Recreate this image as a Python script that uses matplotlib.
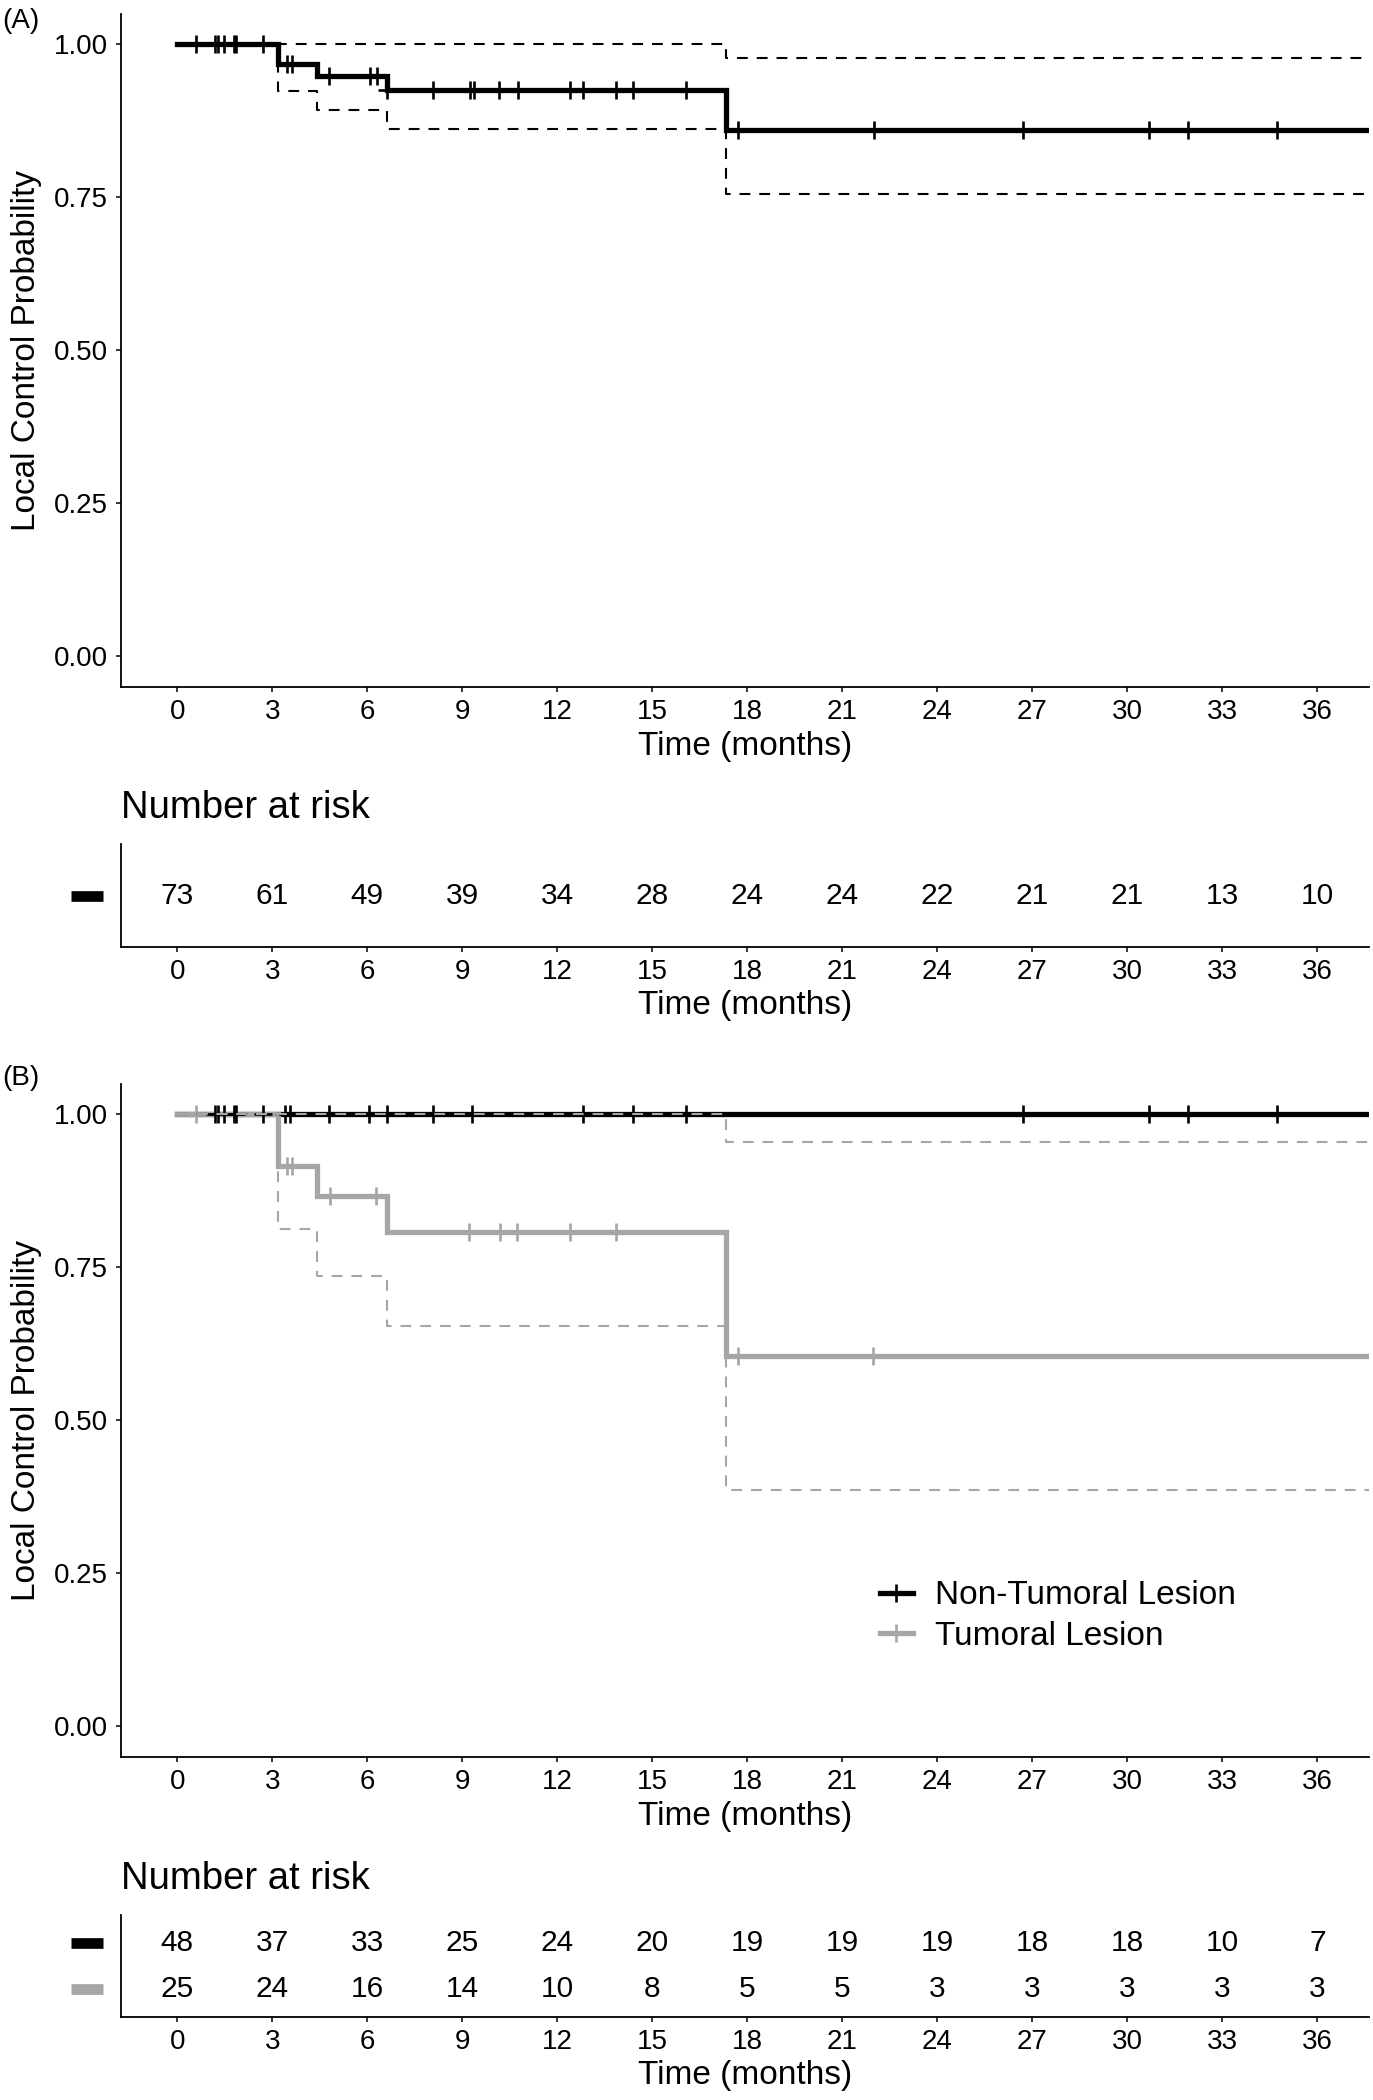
import numpy as np
import matplotlib
matplotlib.use("Agg")
import matplotlib.pyplot as plt
from matplotlib.lines import Line2D
import matplotlib.transforms as mtransforms

plt.rcParams["font.family"] = ["Liberation Sans", "DejaVu Sans"]

BLACK = "#000000"
GREY = "#a6a6a6"

# x range of the panels (months)
x_lo, x_hi = -1.79, 37.63
x_ticks = np.arange(0, 37, 3)

# Panel A: all lesions
times_A = [0, 3.17, 4.41, 6.61, 17.33]
surv_A = [1.0, 0.967, 0.948, 0.926, 0.860]
lower_A = [1.0, 0.924, 0.892, 0.861, 0.755]
upper_A = [1.0, 1.0, 1.0, 1.0, 0.978]
censor_A = [0.60, 1.19, 1.30, 1.49, 1.78, 1.84, 2.71, 3.48, 3.62, 4.80, 6.10,
            6.30, 6.61, 8.08, 9.25, 9.36, 10.17, 10.76, 12.40, 12.80, 13.85,
            14.38, 16.07, 17.72, 22.01, 26.70, 30.69, 31.92, 34.72]
risk_A = [73, 61, 49, 39, 34, 28, 24, 24, 22, 21, 21, 13, 10]

# Panel B: non-tumoral lesions
times_N = [0]
surv_N = [1.0]
lower_N = [1.0]
upper_N = [1.0]
censor_N = [1.19, 1.30, 1.49, 1.78, 1.84, 2.71, 3.39, 3.56, 4.80, 6.06, 6.61,
            8.08, 9.32, 12.80, 14.38, 16.07, 26.70, 30.69, 31.92, 34.72]
risk_N = [48, 37, 33, 25, 24, 20, 19, 19, 19, 18, 18, 10, 7]

# Panel B: tumoral lesions
times_T = [0, 3.17, 4.41, 6.61, 17.33]
surv_T = [1.0, 0.915, 0.866, 0.808, 0.606]
lower_T = [1.0, 0.812, 0.736, 0.655, 0.386]
upper_T = [1.0, 1.0, 1.0, 1.0, 0.955]
censor_T = [0.60, 3.48, 3.62, 4.82, 6.27, 9.20, 10.18, 10.74, 12.39, 13.84,
            17.72, 21.98]
risk_T = [25, 24, 16, 14, 10, 8, 5, 5, 3, 3, 3, 3, 3]

TICK_FS = 20
TITLE_FS = 24
RISK_FS = 21.5
CURVE_LW = 3.8


def step_xy(times, vals):
    t = list(times) + [x_hi]
    v = list(vals) + [vals[-1]]
    return t, v


def value_at(times, vals, x):
    idx = np.searchsorted(times, x, side="right") - 1
    return np.asarray(vals)[idx]


def style_axis(ax):
    for side in ["top", "right"]:
        ax.spines[side].set_visible(False)
    for side in ["left", "bottom"]:
        ax.spines[side].set_linewidth(1.3)
    ax.tick_params(length=3.8, width=1.1, labelsize=TICK_FS, pad=5)
    ax.set_xlim(x_lo, x_hi)
    ax.set_xticks(x_ticks)
    ax.set_xlabel("Time (months)", fontsize=TITLE_FS)
    ax.xaxis.label.set_va("center")


def draw_curves(ax, groups):
    for g in groups:
        t, v = step_xy(g["times"], g["surv"])
        ax.step(t, v, where="post", color=g["color"], lw=CURVE_LW,
                solid_joinstyle="miter")
    for g in groups:
        ys = value_at(g["times"], g["surv"], g["censor"])
        ax.plot(g["censor"], ys, ls="none", marker="+", ms=13, mew=1.9,
                color=g["color"])
    for g in groups:
        for ci in (g["upper"], g["lower"]):
            t, v = step_xy(g["times"], ci)
            ax.step(t, v, where="post", color=g["color"], lw=1.5,
                    dashes=(5.2, 4.3))
    ax.set_ylim(-0.05, 1.05)
    ax.set_yticks([0, 0.25, 0.5, 0.75, 1.0])
    ax.set_yticklabels(["0.00", "0.25", "0.50", "0.75", "1.00"])
    ax.set_ylabel("Local Control Probability", fontsize=TITLE_FS, va="center")
    ax.yaxis.set_label_coords(-0.075, 0.5)
    style_axis(ax)
    ax.xaxis.set_label_coords(0.5, -0.088)


def draw_table(ax, rows):
    n = len(rows)
    ax.set_ylim(0.4, n + 0.6)
    ax.set_yticks([])
    trans = mtransforms.blended_transform_factory(ax.transAxes, ax.transData)
    for i, (counts, color) in enumerate(rows):
        y = n - i
        for x, c in zip(x_ticks, counts):
            ax.text(x, y, str(c), ha="center", va="center", fontsize=RISK_FS)
        ax.add_line(Line2D([-0.0397, -0.0141], [y, y], transform=trans,
                           color=color, lw=7.7, solid_capstyle="butt",
                           clip_on=False))
    style_axis(ax)
    ax.xaxis.set_label_coords(0.5, -0.57)
    ax.text(0.0, 1.35, "Number at risk", transform=ax.transAxes,
            fontsize=27.5, ha="left", va="center")


fig = plt.figure(figsize=(13.73, 21.0), dpi=100)

axA = fig.add_axes([0.0878, 0.6729, 0.9093, 0.3206])
tabA = fig.add_axes([0.0878, 0.549, 0.9093, 0.0491])
axB = fig.add_axes([0.0878, 0.1633, 0.9093, 0.3206])
tabB = fig.add_axes([0.0878, 0.0395, 0.9093, 0.0486])

draw_curves(axA, [dict(times=times_A, surv=surv_A, lower=lower_A,
                       upper=upper_A, censor=censor_A, color=BLACK)])
draw_table(tabA, [(risk_A, BLACK)])

draw_curves(axB, [dict(times=times_N, surv=surv_N, lower=lower_N,
                       upper=upper_N, censor=censor_N, color=BLACK),
                  dict(times=times_T, surv=surv_T, lower=lower_T,
                       upper=upper_T, censor=censor_T, color=GREY)])
draw_table(tabB, [(risk_N, BLACK), (risk_T, GREY)])

handles = [Line2D([], [], color=BLACK, lw=CURVE_LW, marker="+", ms=13, mew=1.9),
           Line2D([], [], color=GREY, lw=CURVE_LW, marker="+", ms=13, mew=1.9)]
axB.legend(handles, ["Non-Tumoral Lesion", "Tumoral Lesion"], frameon=False,
           fontsize=24, loc="center left", bbox_to_anchor=(0.608, 0.2096),
           borderpad=0, borderaxespad=0, handlelength=0.99,
           handletextpad=0.66, labelspacing=0.28)

fig.text(0.002, 1 - 20.7 / 2100, "(A)", fontsize=20, ha="left", va="center")
fig.text(0.002, 1 - 1078 / 2100, "(B)", fontsize=20, ha="left", va="center")

fig.savefig("out.png", dpi=100)
